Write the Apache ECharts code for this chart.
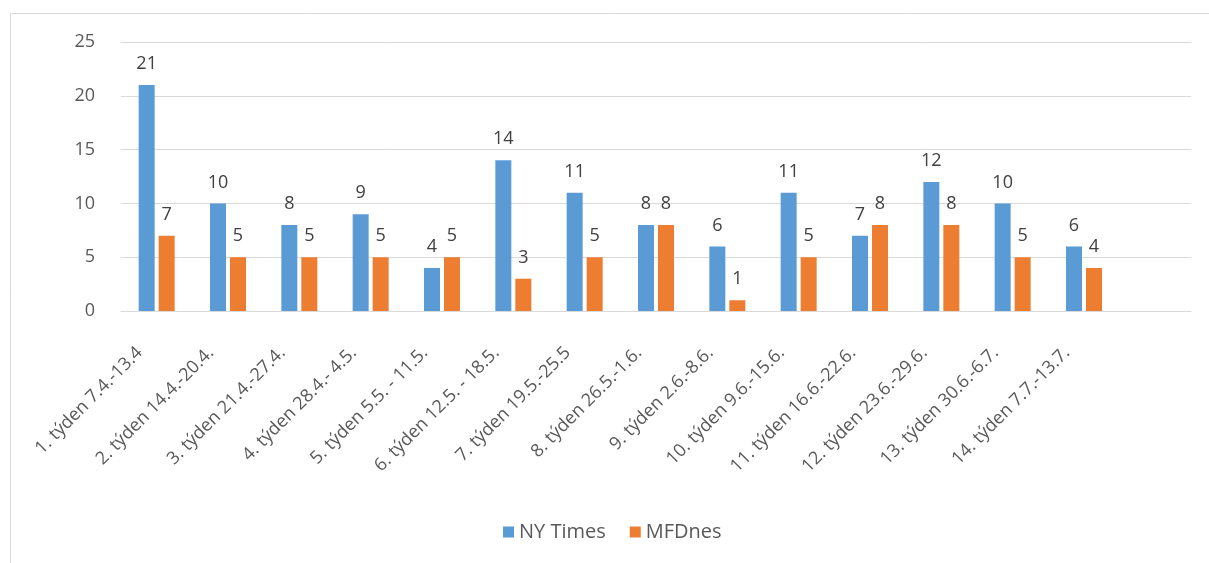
<!DOCTYPE html>
<html>
<head>
<meta charset="utf-8">
<script src="https://cdn.jsdelivr.net/npm/echarts@6/dist/echarts.min.js"></script>
<style>
  html, body { margin: 0; padding: 0; background: #fff; }
  #chart { width: 1209px; height: 563px; }
</style>
</head>
<body>
<div id="chart"></div>
<script>
// týdny (poslední kategorie je v originále prázdná)
var weeks = [
  '1. týden 7.4.-13.4', '2. týden 14.4.-20.4.', '3. týden 21.4.-27.4.',
  '4. týden 28.4.- 4.5.', '5. týden 5.5. - 11.5.', '6. týden 12.5. - 18.5.',
  '7. týden 19.5.-25.5', '8. týden 26.5.-1.6.', '9. týden 2.6.-8.6.',
  '10. týden 9.6.-15.6.', '11. týden 16.6.-22.6.', '12. týden 23.6.-29.6.',
  '13. týden 30.6.-6.7.', '14. týden 7.7.-13.7.', ''
];
var nyTimes = [21, 10, 8, 9, 4, 14, 11, 8, 6, 11, 7, 12, 10, 6, null];
var mfDnes = [7, 5, 5, 5, 5, 3, 5, 8, 1, 5, 8, 8, 5, 4, null];
var yTicks = [0, 5, 10, 15, 20, 25];

var font = '"Open Sans", Lato, sans-serif';
var chart = echarts.init(document.getElementById('chart'));

var labelStyle = {
  show: true,
  position: 'top',
  distance: 12,
  fontSize: 18,
  color: '#404040',
  fontFamily: font
};

var option = {
  animation: false,
  textStyle: { fontFamily: font },
  // rámeček oblasti grafu
  graphic: [{
    type: 'rect',
    shape: { x: 10.5, y: 13.5, width: 1220, height: 600 },
    style: { fill: null, stroke: '#d9d9d9', lineWidth: 1 }
  }],
  grid: { left: 121, right: 18, top: 42, bottom: 252 },
  legend: {
    top: 517,
    left: 498,
    itemWidth: 11,
    itemHeight: 11,
    itemGap: 24,
    icon: 'rect',
    textStyle: { fontSize: 20, color: '#595959', fontFamily: font },
    data: ['NY Times', 'MFDnes']
  },
  xAxis: {
    type: 'category',
    data: weeks,
    axisLine: { lineStyle: { color: '#d9d9d9', width: 1 } },
    axisTick: { show: false },
    axisLabel: {
      interval: 0,
      rotate: 45,
      fontSize: 18,
      color: '#595959',
      margin: 22,
      padding: [0, 24, 0, 0],
      fontFamily: font
    }
  },
  yAxis: {
    type: 'value',
    min: yTicks[0],
    max: yTicks[yTicks.length - 1],
    interval: 5,
    axisLine: { show: false },
    axisTick: { show: false },
    axisLabel: { fontSize: 18, color: '#595959', margin: 26, fontFamily: font },
    splitLine: { lineStyle: { color: '#d9d9d9', width: 1 } }
  },
  series: [
    {
      name: 'NY Times',
      type: 'bar',
      data: nyTimes,
      barWidth: 16,
      barGap: '25%',
      itemStyle: { color: '#5b9bd5' },
      label: labelStyle
    },
    {
      name: 'MFDnes',
      type: 'bar',
      data: mfDnes,
      barWidth: 16,
      barGap: '25%',
      itemStyle: { color: '#ed7d31' },
      label: labelStyle
    }
  ]
};

chart.setOption(option);
</script>
</body>
</html>
